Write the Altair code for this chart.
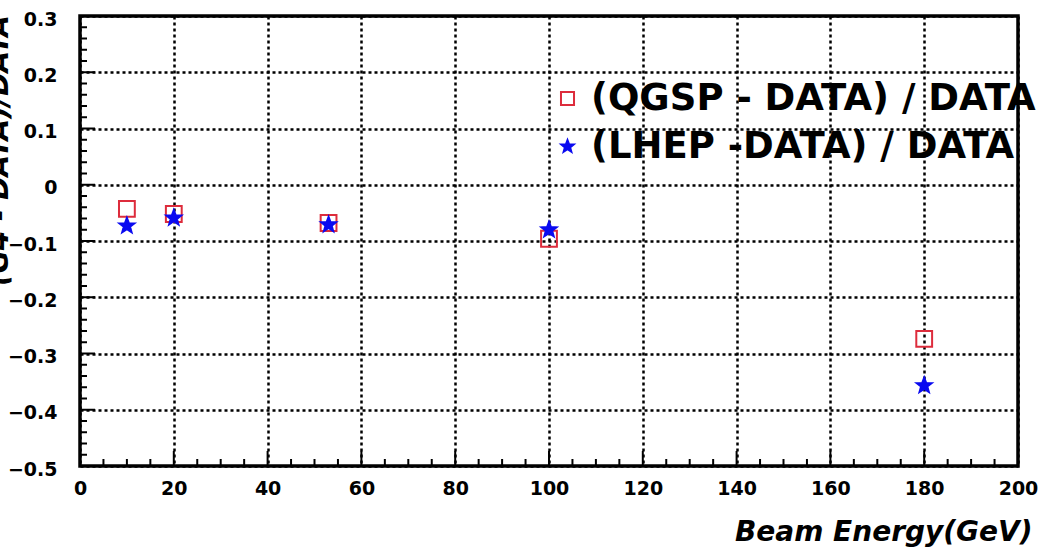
import altair as alt
import pandas as pd

# ---- data ----
energy = [10, 20, 53, 100, 180]
qgsp = [-0.043, -0.052, -0.068, -0.096, -0.274]
lhep = [-0.073, -0.059, -0.071, -0.080, -0.357]
series = ["(QGSP - DATA) / DATA", "(LHEP -DATA) / DATA"]

x_major = [0, 20, 40, 60, 80, 100, 120, 140, 160, 180, 200]
x_minor = [v for v in range(5, 200, 5) if v % 20 != 0]
y_major = [-0.5, -0.4, -0.3, -0.2, -0.1, 0.0, 0.1, 0.2, 0.3]
y_minor = [round(-0.5 + 0.02 * i, 2) for i in range(41) if i % 5 != 0]

rows = []
for e, q in zip(energy, qgsp):
    rows.append({"energy": e, "ratio": q, "series": series[0]})
for e, l in zip(energy, lhep):
    rows.append({"energy": e, "ratio": l, "series": series[1]})
df = pd.DataFrame(rows)

W, H = 938, 450
RED = "#dd2c3c"
BLUE = "#0a0af0"
FONT = "DejaVu Sans"
STAR = ("M0,-1L0.247,-0.34L0.951,-0.309L0.399,0.13L0.588,0.809L0,0.42"
        "L-0.588,0.809L-0.399,0.13L-0.951,-0.309L-0.247,-0.34Z")

xscale = alt.Scale(domain=[0, 200], nice=False, zero=False)
yscale = alt.Scale(domain=[-0.5, 0.3], nice=False, zero=False)

xaxis = alt.Axis(
    values=x_major, format="d", grid=True, gridDash=[3, 3], gridWidth=2.5,
    gridColor="black", ticks=False, domain=False,
    labelFont=FONT, labelFontSize=19, labelFontWeight="bold", labelColor="black",
    labelPadding=13, labelFlush=False,
    title="Beam Energy(GeV)", titleFont=FONT, titleFontSize=28,
    titleFontWeight="bold", titleFontStyle="italic", titleColor="black",
    titleAnchor="end", titleAlign="right", titleX=952, titleY=74,
    titleBaseline="alphabetic")
yaxis = alt.Axis(
    values=y_major, format=".1~f", grid=True, gridDash=[3, 3], gridWidth=2.5,
    gridColor="black", ticks=False, domain=False,
    labelFont=FONT, labelFontSize=19, labelFontWeight="bold", labelColor="black",
    labelPadding=23, labelFlush=False, labelOffset=3,
    title="(G4 - DATA)/DATA", titleFont=FONT, titleFontSize=28,
    titleFontWeight="bold", titleFontStyle="italic", titleColor="black",
    titleAngle=270, titleAlign="center", titleBaseline="alphabetic",
    titleX=-73, titleY=134)

leg = alt.Legend(
    title=None, orient="none", legendX=469, legendY=64,
    labelFont=FONT, labelFontSize=37, labelFontWeight="bold",
    labelColor="black", labelLimit=800, symbolSize=170,
    symbolStrokeWidth=2, labelOffset=5, rowPadding=10, padding=0,
)

points = alt.Chart(df).mark_point(size=250, strokeWidth=2, opacity=1).encode(
    x=alt.X("energy:Q", scale=xscale, axis=xaxis),
    y=alt.Y("ratio:Q", scale=yscale, axis=yaxis),
    shape=alt.Shape("series:N", scale=alt.Scale(domain=series, range=["square", STAR]), legend=leg),
    stroke=alt.Stroke("series:N", scale=alt.Scale(domain=series, range=[RED, BLUE]), legend=leg),
    fill=alt.Fill("series:N", scale=alt.Scale(domain=series, range=["transparent", BLUE]), legend=leg),
)

def xticks(vals, length):
    return alt.Chart(pd.DataFrame({"energy": vals})).mark_rule(color="black", strokeWidth=2).encode(
        x=alt.X("energy:Q", scale=xscale, axis=xaxis),
        y=alt.value(H), y2=alt.value(H - length))

def yticks(vals, length):
    return alt.Chart(pd.DataFrame({"ratio": vals})).mark_rule(color="black", strokeWidth=2).encode(
        y=alt.Y("ratio:Q", scale=yscale, axis=yaxis),
        x=alt.value(0), x2=alt.value(length))

chart = alt.layer(
    points, xticks(x_major, 15), xticks(x_minor, 7), yticks(y_major, 15), yticks(y_minor, 7)
).properties(
    width=W, height=H, autosize=alt.AutoSizeParams(type="none"),
    padding={"left": 80, "top": 16, "right": 21, "bottom": 83},
    background="white",
).configure_view(stroke="black", strokeWidth=3.5)

chart.save("out.html", embed_options={"renderer": "svg", "actions": False})
